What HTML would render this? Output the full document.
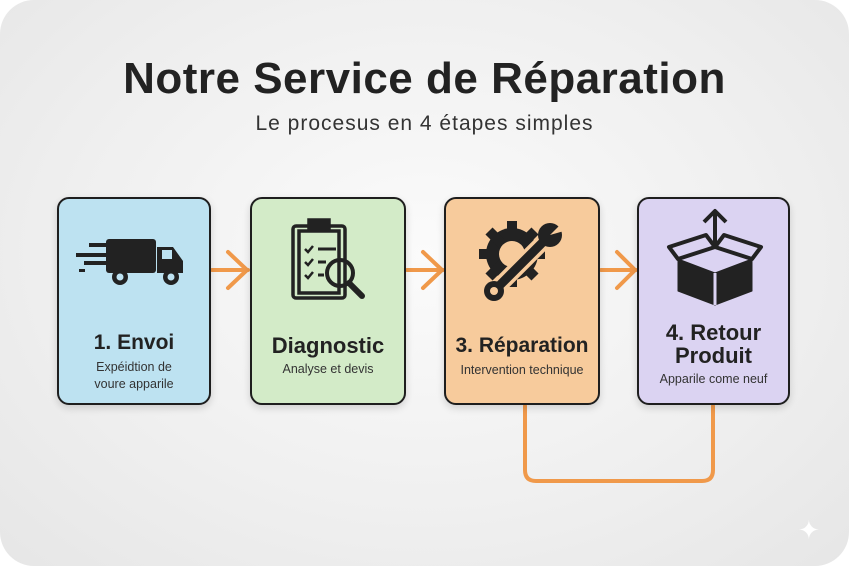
<!DOCTYPE html>
<html><head><meta charset="utf-8"><style>
body{margin:0;width:849px;height:566px;background:#fff;font-family:"Liberation Sans",sans-serif;overflow:hidden}
.bg{position:absolute;left:0;top:0;width:849px;height:566px;border-radius:34px;background:radial-gradient(ellipse at 50% 45%,#fbfbfb 0%,#efefef 60%,#e6e6e6 100%)}
.t{position:absolute;left:0;width:849px;text-align:center;color:#222}
.box{position:absolute;top:197px;height:208px;border:2.5px solid #1e1e1e;border-radius:12px;box-sizing:border-box;box-shadow:0 3px 8px rgba(0,0,0,.15);text-align:center;color:#222}
.h{position:absolute;left:0;width:100%;font-weight:bold;font-size:21px;line-height:23px}
.s{position:absolute;left:0;width:100%;font-size:12.5px;line-height:17px;color:#333}
svg{position:absolute;left:0;top:0}
</style></head><body>
<div class="bg"></div>
<div class="t" style="top:54px;font-size:44px;font-weight:bold;color:#222;letter-spacing:0.5px">Notre Service de Réparation</div>
<div class="t" style="top:112px;font-size:21px;color:#333;letter-spacing:1px">Le procesus en 4 étapes simples</div>

<svg width="849" height="566">
<g stroke="#f0994a" stroke-width="4" fill="none" stroke-linecap="round" stroke-linejoin="round">
<path d="M212 270H248M228 252L247 270L228 288"/>
<path d="M407 270H443M423 252L442 270L423 288"/>
<path d="M601 270H636M617 252L635 270L617 288"/>
<path d="M525 406V470Q525 481 536 481H702Q713 481 713 470V406"/>
</g>
</svg>

<div class="box" style="left:57px;width:154px;background:#bde2f1">
<svg width="154" height="110" viewBox="0 0 154 110">
<g fill="#222"><rect x="47" y="40" width="50" height="34" rx="3"/><path d="M98 48H114L124 62V74H98Z"/><rect x="103" y="51" width="10" height="9" fill="#bde2f1"/>
<circle cx="61" cy="78" r="8"/><circle cx="112" cy="78" r="8"/><circle cx="61" cy="78" r="3.5" fill="#bde2f1"/><circle cx="112" cy="78" r="3.5" fill="#bde2f1"/>
<rect x="30" y="44" width="22" height="4"/><rect x="17" y="54" width="30" height="4"/><rect x="25" y="62" width="22" height="4"/><rect x="20" y="70" width="6" height="3"/></g>
</svg>
<div class="h" style="top:132px">1. Envoi</div>
<div class="s" style="top:160px">Expéidtion de<br>voure apparile</div>
</div>

<div class="box" style="left:250px;width:156px;background:#d3ebc8">
<svg width="156" height="110" viewBox="0 0 156 110">
<g fill="none" stroke="#222" stroke-width="3.5"><rect x="41" y="27" width="52" height="72" rx="3"/><rect x="47" y="32" width="40" height="62"/>
<rect x="57" y="21" width="20" height="9" fill="#222"/><circle cx="88" cy="74" r="13" stroke-width="4"/><path d="M97 84L110 97" stroke-width="6" stroke-linecap="round"/>
<path d="M53 50l3 3 5-6M53 63l3 3 5-6M53 76l3 3 5-6" stroke-width="2.5"/><path d="M66 50H84M66 63H74M66 76H72" stroke-width="3"/></g>
</svg>
<div class="h" style="top:135px;font-size:22px">Diagnostic</div>
<div class="s" style="top:162px">Analyse et devis</div>
</div>

<div class="box" style="left:444px;width:156px;background:#f7cb9c">
<svg width="156" height="110" viewBox="0 0 156 110">
<g fill="#222"><circle cx="66" cy="55" r="26"/>
<g stroke="#222" stroke-width="10"><path d="M66 22V88M33 55H99M43 32L89 78M89 32L43 78"/></g>
<circle cx="66" cy="55" r="13" fill="#f7cb9c"/>
<path d="M48 92L100 40" stroke="#f7cb9c" stroke-width="16"/>
<path d="M48 92L100 40" stroke="#222" stroke-width="9"/>
<circle cx="48" cy="92" r="10"/><circle cx="48" cy="92" r="4" fill="#f7cb9c"/>
<circle cx="104" cy="36" r="12"/><path d="M104 36L120 20L125 30Z" fill="#f7cb9c"/></g>
</svg>
<div class="h" style="top:135px">3. Réparation</div>
<div class="s" style="top:163px">Intervention technique</div>
</div>

<div class="box" style="left:637px;width:153px;background:#dbd3f2">
<svg width="153" height="110" viewBox="0 0 153 110">
<g fill="#222" stroke="#222" stroke-linejoin="round"><path d="M39 60L76 74L113 60V92L76 106L39 92Z"/>
<path d="M39 60L30 48L67 36L76 48Z" fill="none" stroke-width="4"/><path d="M113 60L122 48L85 36L76 48Z" fill="none" stroke-width="4"/>
<path d="M76 74V106" stroke="#dbd3f2" stroke-width="3"/>
<path d="M76 46V12M65 23L76 12L87 23" fill="none" stroke-width="4"/></g>
</svg>
<div class="h" style="top:122px;font-size:22px">4. Retour<br>Produit</div>
<div class="s" style="top:172px">Apparile come neuf</div>
</div>

<div style="position:absolute;left:798px;top:515px;font-size:26px;color:#fff">✦</div>
</body></html>
